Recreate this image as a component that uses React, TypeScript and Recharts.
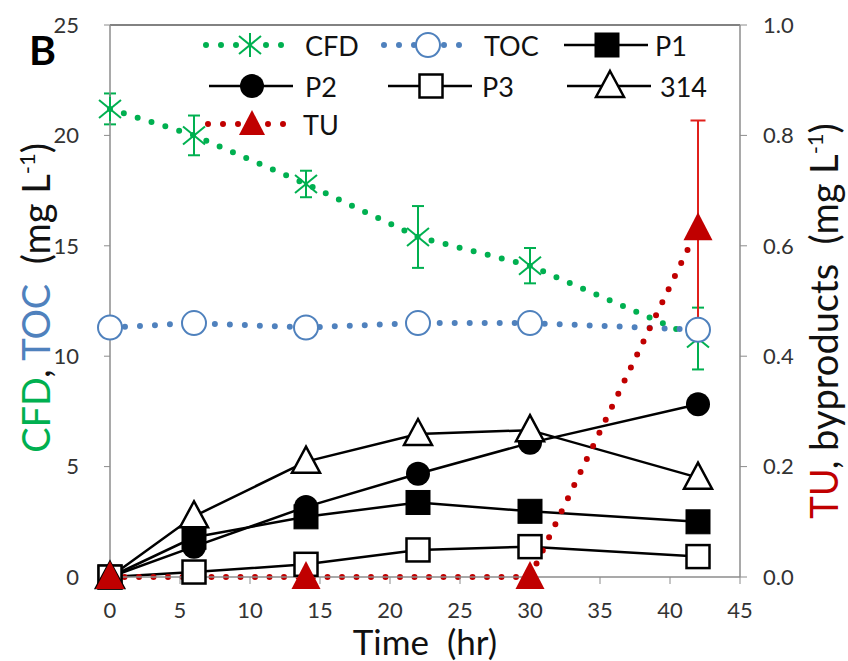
import React from 'react';
import { ComposedChart, Line, XAxis, YAxis, ErrorBar, Legend, ReferenceLine, Label } from 'recharts';

const timeHr = [0, 6, 14, 22, 30, 42];
const cfdValues = [21.2, 20.0, 17.8, 15.4, 14.1, 10.8];
const cfdErrors = [0.7, 0.9, 0.6, 1.4, 0.8, 1.4];
const tocValues = [11.3, 11.5, 11.3, 11.5, 11.5, 11.2];
const p1Values = [0, 0.072, 0.109, 0.135, 0.119, 0.1];
const p2Values = [0, 0.055, 0.127, 0.187, 0.243, 0.313];
const p3Values = [0, 0.009, 0.023, 0.049, 0.055, 0.037];
const b314Values = [0, 0.11, 0.209, 0.259, 0.266, 0.18];
const tuTime = [0, 14, 30, 42];
const tuValues = [0, 0, 0, 0.632];
const tuErrors = [null, null, null, 0.195];

const xTicks = [0, 5, 10, 15, 20, 25, 30, 35, 40, 45];
const leftTicks = [0, 5, 10, 15, 20, 25];
const rightTicks = [0, 0.2, 0.4, 0.6, 0.8, 1.0];

const data = timeHr.map((t, i) => ({
  time: t,
  cfd: cfdValues[i],
  cfdErr: cfdErrors[i],
  toc: tocValues[i],
  p1: p1Values[i],
  p2: p2Values[i],
  p3: p3Values[i],
  b314: b314Values[i],
}));

const tuData = tuTime.map((t, i) => ({ time: t, tu: tuValues[i], tuErr: tuErrors[i] }));

const FONT = "Lato, 'Open Sans', sans-serif";
const GREEN = '#00b050';
const BLUE = '#4f81bd';
const RED = '#c00000';
const ERR_RED = '#e0201b';
const AXIS = '#8c8c8c';
const TXT = '#333333';

const Asterisk = ({ cx, cy }: any) => {
  const s = 11;
  return (
    <g stroke={GREEN} strokeWidth={2} fill="none">
      <line x1={cx - s} y1={cy - s + 2} x2={cx + s} y2={cy + s - 2} />
      <line x1={cx - s} y1={cy + s - 2} x2={cx + s} y2={cy - s + 2} />
      <line x1={cx} y1={cy - s - 1} x2={cx} y2={cy + s + 1} />
    </g>
  );
};
const OpenCircle = ({ cx, cy }: any) => (
  <circle cx={cx} cy={cy} r={12} fill="#fff" stroke={BLUE} strokeWidth={2} />
);
const FilledSquare = ({ cx, cy }: any) => (
  <rect x={cx - 12} y={cy - 12} width={24} height={24} fill="#000" stroke="#000" strokeWidth={1} />
);
const FilledCircle = ({ cx, cy }: any) => <circle cx={cx} cy={cy} r={12} fill="#000" />;
const OpenSquare = ({ cx, cy }: any) => (
  <rect x={cx - 11.5} y={cy - 11.5} width={23} height={23} fill="#fff" stroke="#000" strokeWidth={2.5} />
);
const OpenTriangle = ({ cx, cy }: any) => (
  <path
    d={`M${cx},${cy - 15} L${cx + 14},${cy + 11} L${cx - 14},${cy + 11} Z`}
    fill="#fff"
    stroke="#000"
    strokeWidth={2.5}
    strokeLinejoin="miter"
  />
);
const FilledTriangle = ({ cx, cy }: any) => (
  <path d={`M${cx},${cy - 16} L${cx + 14.5},${cy + 12} L${cx - 14.5},${cy + 12} Z`} fill={RED} />
);

const mk = (Comp: any, name: string) => (p: any) =>
  p.cx == null || p.cy == null ? <g key={`${name}-${p.index}`} /> : <Comp key={`${name}-${p.index}`} cx={p.cx} cy={p.cy} />;

const DottedSample = ({ cx, cy, color }: any) => (
  <g stroke={color} strokeWidth={6} strokeLinecap="round" strokeDasharray="0 15" fill="none">
    <line x1={cx - 44} y1={cy} x2={cx - 13} y2={cy} />
    <line x1={cx + 16} y1={cy} x2={cx + 32} y2={cy} />
  </g>
);
const SolidSample = ({ cx, cy }: any) => (
  <line x1={cx - 43} y1={cy} x2={cx + 41} y2={cy} stroke="#000" strokeWidth={2.5} />
);

const LegendTri = ({ cx, cy }: any) => (
  <path d={`M${cx},${cy - 14} L${cx + 13},${cy + 11} L${cx - 13},${cy + 11} Z`} fill={RED} />
);

const legendItems = [
  { cx: 250, cy: 45, tx: 305, label: 'CFD', dotted: GREEN, M: Asterisk },
  { cx: 428, cy: 45, tx: 484, label: 'TOC', dotted: BLUE, M: OpenCircle },
  { cx: 607, cy: 45, tx: 655, label: 'P1', dotted: null, M: FilledSquare },
  { cx: 252, cy: 86, tx: 305, label: 'P2', dotted: null, M: FilledCircle },
  { cx: 431, cy: 86, tx: 482, label: 'P3', dotted: null, M: OpenSquare },
  { cx: 610, cy: 86, tx: 660, label: '314', dotted: null, M: OpenTriangle },
  { cx: 252, cy: 124, tx: 303, label: 'TU', dotted: RED, M: LegendTri },
];

const LegendBox = () => (
  <svg width={848} height={150} style={{ display: 'block' }}>
    <text x={29} y={65} fontFamily={FONT} fontWeight="bold" fontSize={41} fill="#000">
      B
    </text>
    {legendItems.map((it) => (
      <g key={it.label}>
        {it.dotted ? <DottedSample cx={it.cx} cy={it.cy} color={it.dotted} /> : <SolidSample cx={it.cx} cy={it.cy} />}
        <it.M cx={it.cx} cy={it.cy} />
        <text x={it.tx} y={it.cy} dominantBaseline="central" fontFamily={FONT} fontSize={27} fill="#111">
          {it.label}
        </text>
      </g>
    ))}
  </svg>
);

const LeftTitle = (props: any) => {
  const vb = props.viewBox || { x: 50, y: 25, width: 60, height: 552 };
  const x = vb.x;
  const y = vb.y + vb.height / 2 - 3;
  return (
    <text
      x={x}
      y={y}
      transform={`rotate(-90, ${x}, ${y})`}
      textAnchor="middle"
      fontFamily={FONT}
      fontSize={38}
      fill="#111"
    >
      <tspan fill={GREEN}>CFD</tspan>
      <tspan>, </tspan>
      <tspan fill={BLUE}>TOC</tspan>
      <tspan>{'\u00a0\u00a0(mg L'}</tspan>
      <tspan fontSize={22} dy={-15}>-1</tspan>
      <tspan dy={15}>)</tspan>
    </text>
  );
};

const RightTitle = (props: any) => {
  const vb = props.viewBox || { x: 740, y: 25, width: 60, height: 552 };
  const x = vb.x + 98;
  const y = vb.y + vb.height / 2 + 20;
  return (
    <text
      x={x}
      y={y}
      transform={`rotate(-90, ${x}, ${y})`}
      textAnchor="middle"
      fontFamily={FONT}
      fontSize={38}
      fill="#111"
    >
      <tspan fill={RED}>TU</tspan>
      <tspan>{', byproducts\u00a0\u00a0(mg L'}</tspan>
      <tspan fontSize={22} dy={-15}>-1</tspan>
      <tspan dy={15}>)</tspan>
    </text>
  );
};

const XTitle = (props: any) => {
  const vb = props.viewBox || { x: 110, y: 577, width: 630, height: 40 };
  return (
    <text x={vb.x + vb.width / 2} y={vb.y + 78} textAnchor="middle" fontFamily={FONT} fontSize={35} fill="#111">
      {'Time\u00a0\u00a0(hr)'}
    </text>
  );
};

const tickStyle = { fontFamily: FONT, fontSize: 22, fill: TXT };

export default function App() {
  return (
    <div style={{ position: 'absolute', left: 0, top: 0, width: 848, height: 661, background: '#fff' }}>
      <ComposedChart width={848} height={661} data={data} margin={{ top: 25, right: 48, bottom: 44, left: 50 }}>
        <XAxis
          dataKey="time"
          type="number"
          domain={[0, 45]}
          ticks={xTicks}
          interval={0}
          height={40}
          stroke={AXIS}
          tickSize={7}
          tickMargin={18}
          tick={tickStyle}
          tickLine={{ stroke: AXIS }}
          axisLine={{ stroke: AXIS, strokeWidth: 1.5 }}
        >
          <Label content={(p: any) => <XTitle {...p} />} />
        </XAxis>
        <YAxis
          yAxisId="left"
          orientation="left"
          domain={[0, 25]}
          ticks={leftTicks}
          interval={0}
          width={60}
          tickSize={6}
          tickMargin={25}
          tick={tickStyle}
          tickLine={{ stroke: AXIS }}
          axisLine={{ stroke: AXIS, strokeWidth: 1.5 }}
        >
          <Label content={(p: any) => <LeftTitle {...p} />} />
        </YAxis>
        <YAxis
          yAxisId="right"
          orientation="right"
          domain={[0, 1]}
          ticks={rightTicks}
          interval={0}
          width={60}
          tickSize={7}
          tickMargin={16}
          tick={tickStyle}
          tickFormatter={(v: number) => v.toFixed(1)}
          tickLine={{ stroke: AXIS }}
          axisLine={{ stroke: AXIS, strokeWidth: 1.5 }}
        >
          <Label content={(p: any) => <RightTitle {...p} />} />
        </YAxis>
        <ReferenceLine yAxisId="left" y={25} stroke="#595959" strokeWidth={1.5} />
        <Legend
          layout="vertical"
          align="center"
          verticalAlign="middle"
          wrapperStyle={{ left: 0, top: 0, width: 848, height: 150 }}
          content={() => <LegendBox />}
        />
        <Line
          yAxisId="left"
          dataKey="cfd"
          stroke={GREEN}
          strokeWidth={6}
          strokeDasharray="0 14.5"
          strokeLinecap="round"
          dot={mk(Asterisk, 'cfd')}
          activeDot={false}
          isAnimationActive={false}
        >
          <ErrorBar dataKey="cfdErr" width={6} stroke={GREEN} strokeWidth={2} direction="y" />
        </Line>
        <Line
          yAxisId="left"
          dataKey="toc"
          stroke={BLUE}
          strokeWidth={6}
          strokeDasharray="0 15"
          strokeLinecap="round"
          dot={mk(OpenCircle, 'toc')}
          activeDot={false}
          isAnimationActive={false}
        />
        <Line
          yAxisId="right"
          dataKey="p1"
          stroke="#000"
          strokeWidth={2.5}
          dot={mk(FilledSquare, 'p1')}
          activeDot={false}
          isAnimationActive={false}
        />
        <Line
          yAxisId="right"
          dataKey="p2"
          stroke="#000"
          strokeWidth={2.5}
          dot={mk(FilledCircle, 'p2')}
          activeDot={false}
          isAnimationActive={false}
        />
        <Line
          yAxisId="right"
          dataKey="p3"
          stroke="#000"
          strokeWidth={2.5}
          dot={mk(OpenSquare, 'p3')}
          activeDot={false}
          isAnimationActive={false}
        />
        <Line
          yAxisId="right"
          dataKey="b314"
          stroke="#000"
          strokeWidth={2.5}
          dot={mk(OpenTriangle, 'b314')}
          activeDot={false}
          isAnimationActive={false}
        />
        <Line
          yAxisId="right"
          data={tuData}
          dataKey="tu"
          stroke={RED}
          strokeWidth={6}
          strokeDasharray="0 14.5"
          strokeLinecap="round"
          dot={mk(FilledTriangle, 'tu')}
          activeDot={false}
          isAnimationActive={false}
        >
          <ErrorBar dataKey="tuErr" width={7.5} stroke={ERR_RED} strokeWidth={2} direction="y" />
        </Line>
      </ComposedChart>
    </div>
  );
}
